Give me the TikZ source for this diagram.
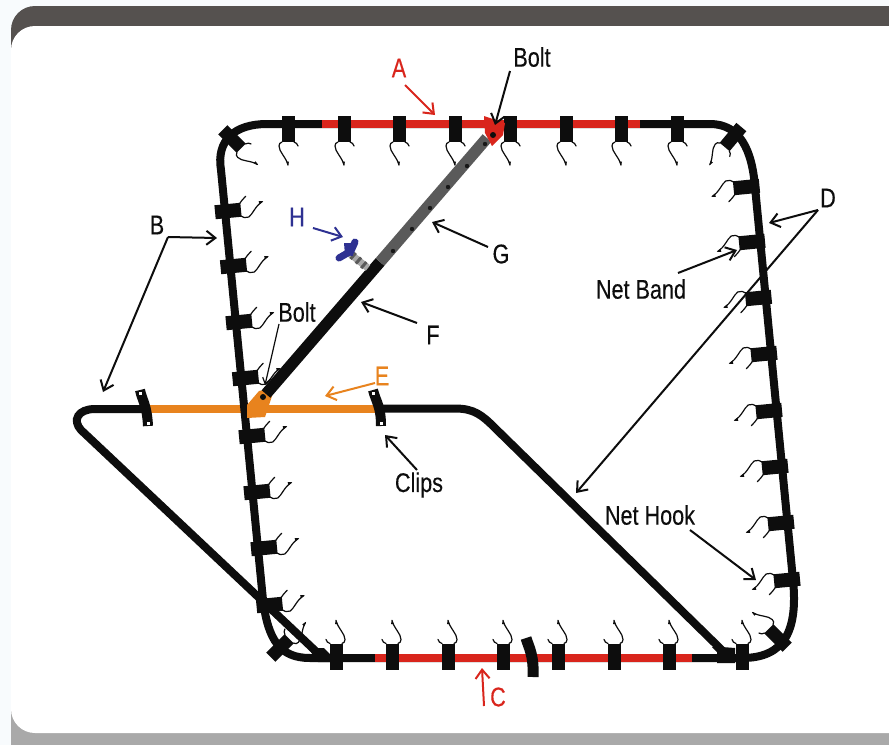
\documentclass[tikz,border=0pt]{standalone}
\usepackage{fontspec}
\setmainfont[FakeStretch=0.8,FakeBold=0.25]{Liberation Sans}
\usetikzlibrary{arrows.meta}
\definecolor{railred}{HTML}{D9251C}
\definecolor{railorange}{HTML}{E8831E}
\definecolor{navy}{HTML}{2E3192}
\definecolor{darkband}{HTML}{55514F}
\definecolor{lightband}{HTML}{A9A9A9}
\definecolor{armgray}{HTML}{5A5A5A}
\definecolor{inkblack}{HTML}{0D0D0D}
\definecolor{paleback}{HTML}{F8FBFD}
\tikzset{
  rail/.style={line width=8pt,draw=inkblack},
  armstroke/.style={line width=11.5pt,line cap=butt},
  hookline/.style={line width=1.2pt,draw=inkblack,line cap=round},
  lbl/.style={font=\fontsize{27}{27}\selectfont,text=inkblack,inner sep=0pt},
  callout/.style={line width=2pt,draw=inkblack,-{Straight Barb[length=9pt,width=14pt,line width=2pt]}},
}
% top / bottom style band with hook: x y rotation
\newcommand{\bandA}[3]{%
  \begin{scope}[shift={(#1,#2)},rotate=#3]
    \fill[inkblack] (-6.5,-13) rectangle (6.5,13);
    \draw[hookline] (-6,13) .. controls (-8,13.5) and (-9,15) .. (-9,17)
       .. controls (-9,23) and (-2,28) .. (0,36);
    \fill[inkblack] (0,37) -- (-1.8,32.5) -- (1,32.5) -- cycle;
    \draw[hookline] (6,13) .. controls (8,13.5) and (9.5,15) .. (10,17);
  \end{scope}}
% side band with hook
\newcommand{\bandB}[3]{%
  \begin{scope}[shift={(#1,#2)},rotate=#3]
    \fill[inkblack] (-7,-13) rectangle (7,13);
    \draw[hookline] (-6,12) .. controls (-8,14) and (-9,17) .. (-8,20)
       .. controls (-6,24) and (3,28) .. (6,35);
    \fill[inkblack] (6.5,36) -- (3.5,32) -- (7,31.5) -- cycle;
    \draw[hookline] (6,12) .. controls (8,14) and (11,16) .. (13,19);
  \end{scope}}
\begin{document}
\begin{tikzpicture}[x=1pt,y=-1pt]
\useasboundingbox (0,0) rectangle (889,745);
% frame
\fill[paleback] (0,0) rectangle (889,745);
\fill[darkband,rounded corners=24pt] (11,90) -- (11,6) -- (930,6) -- (930,90) -- cycle;
\fill[lightband] (11,690) rectangle (889,745);
\fill[white,rounded corners=24pt] (11,400) -- (11,26) -- (930,26) -- (930,733) -- (11,733) -- cycle;
% second frame
\draw[rail] (150,409) -- (95,409) .. controls (78,409) and (72,420) .. (81,430) -- (323,658);
\draw[rail] (377,408.5) -- (455,408.5) .. controls (474,408.5) and (482,415) .. (495,428) -- (730,658);
\fill[inkblack] (712,647) -- (722,647) -- (735,648) -- (735,663) -- (717,663) -- (717,652) -- cycle;
\fill[inkblack] (308,648) -- (324,648) -- (332,656) -- (332,662) -- (318,662) -- cycle;
\draw[line width=8pt,draw=railorange] (150,408.5) -- (377,408.5);
% main frame
\draw[rail,line join=round] (267,124) -- (710,124) .. controls (740,124) and (752,150) .. (755,187)
  -- (793,580) .. controls (798,630) and (785,658) .. (742,658)
  -- (310,658) .. controls (280,658) and (268,640) .. (263,600)
  -- (221,170) .. controls (216,140) and (235,124) .. (267,124) -- cycle;
\draw[line width=8pt,draw=railred] (322,124) -- (640,124);
\draw[line width=8pt,draw=railred] (375,658) -- (692,658);
% bands on top
\foreach \x in {288,344,399,455,510,566,621,677} {\bandA{\x}{129}{0}}
% bands on bottom
\foreach \x in {336,392,448,503,558,614,669,742} {\bandA{\x}{656.5}{180}}
% left bands
\foreach \x/\y in {228/211,233.5/266,239/322,245.5/378,252/436,257/492,264/548,269.5/605} {\bandB{\x}{\y}{95.5}}
% right bands
\foreach \x/\y in {746.5/187,752/242,758.5/298,764/354,769/411,775/467,781/523,787/580} {\bandB{\x}{\y}{-84.5}}
% corner bands
\bandA{232}{139}{45}
\bandA{733}{137}{-40}
\bandA{280}{648}{135}
\bandA{778}{638}{-135}
% clips
\draw[line width=10pt,draw=inkblack] (140,390) .. controls (142,400) and (147,405) .. (148,426);
\draw[line width=10pt,draw=inkblack] (373,390) .. controls (376,402) and (381,406) .. (381,426);
\fill[white] (138.5,391.5) rectangle (141.5,394.5);
\fill[white] (146.5,422) rectangle (149.5,425);
\fill[white] (372,391.5) rectangle (375,394.5);
\fill[white] (379.5,422) rectangle (382.5,425);
\draw[line width=11pt,draw=inkblack] (526,638) .. controls (529,648) and (534,655) .. (533,677);
% diagonal arm
\fill[railorange] (247,405) -- (259,391) -- (268,389) -- (272,396) -- (265,417) -- (247,418) -- cycle;
\draw[armstroke,draw=inkblack] (266,394) -- (380,262);
\draw[armstroke,draw=armgray] (380,262) -- (487,138);
\fill[railred] (484,116) -- (505,123) -- (503,135) -- (492,146) -- (485,133) -- cycle;
\fill[inkblack] (263,397) circle[radius=3];
\fill[inkblack] (493,135) circle[radius=3];
\foreach \x/\y in {485/144,467/166,448/187,430/208,412/229,393/251} {\fill[inkblack!85!armgray] (\x,\y) circle[radius=2.2];}
% knob H
\draw[line width=7pt,draw=lightband] (349,253) -- (368,268);
\draw[line width=8pt,draw=armgray,dash pattern=on 3pt off 4pt] (352,255) -- (366,267);
\draw[line width=7pt,draw=navy,line cap=round] (355,242) -- (351,251) -- (339,258);
\fill[navy] (344,243) -- (354,243) -- (353,256) -- (345,255) -- cycle;
% labels
\node[lbl,text=railred] (labA) at (399,68) {A};
\node[lbl] (labBoltT) at (532,57) {Bolt};
\node[lbl] (labB) at (157,225) {B};
\node[lbl,text=navy] (labH) at (297,217) {H};
\node[lbl] (labG) at (501,254) {G};
\node[lbl] (labF) at (433,335) {F};
\node[lbl] (labBoltL) at (297,312) {Bolt};
\node[lbl,text=railorange] (labE) at (382,376) {E};
\node[lbl] (labClips) at (419,485) {Clips};
\node[lbl] (labNetBand) at (641,289) {Net Band};
\node[lbl] (labD) at (828,198) {D};
\node[lbl] (labNetHook) at (650,515) {Net Hook};
\node[lbl,text=railred] (labC) at (498,697) {C};
% connector ends
\coordinate (aS) at (405,85); \coordinate (aT) at (435,115);
\coordinate (boS) at (510,71); \coordinate (boT) at (495,125);
\coordinate (bJ) at (168,237); \coordinate (bT1) at (217,238); \coordinate (bT2) at (103,392);
\coordinate (hS) at (313,228); \coordinate (hT) at (343,237);
\coordinate (gS) at (488,247); \coordinate (gT) at (432,222);
\coordinate (fS) at (417,323); \coordinate (fT) at (361,302);
\coordinate (blS) at (279,324); \coordinate (blT) at (265,385);
\coordinate (eS) at (375,383); \coordinate (eT) at (325,396);
\coordinate (cS) at (417,470); \coordinate (cT) at (385,435);
\coordinate (nbS) at (678,273); \coordinate (nbT) at (737,250);
\coordinate (dJ) at (818,210); \coordinate (dT1) at (769,223); \coordinate (dT2) at (576,493);
\coordinate (nhS) at (690,530); \coordinate (nhT) at (756,580);
\coordinate (rS) at (484,706); \coordinate (rT) at (482,668);
% connectors
\draw[callout,draw=railred,-{Straight Barb[length=9pt,width=14pt,line width=2pt,color=railred]}] (aS) -- (aT);
\draw[callout] (boS) -- (boT);
\draw[callout] (bJ) -- (bT1);
\draw[callout] (bJ) -- (bT2);
\draw[callout,draw=navy,-{Straight Barb[length=9pt,width=14pt,line width=2pt,color=navy]}] (hS) -- (hT);
\draw[callout] (gS) -- (gT);
\draw[callout] (fS) -- (fT);
\draw[callout,-{Straight Barb[length=6pt,width=8pt,line width=1.2pt]},line width=1.2pt] (blS) -- (blT);
\draw[callout,draw=railorange,-{Straight Barb[length=9pt,width=14pt,line width=2pt,color=railorange]}] (eS) -- (eT);
\draw[callout] (cS) -- (cT);
\draw[callout] (nbS) -- (nbT);
\draw[callout] (dJ) -- (dT1);
\draw[callout] (dJ) -- (dT2);
\draw[callout] (nhS) -- (nhT);
\draw[callout,draw=railred,-{Straight Barb[length=9pt,width=14pt,line width=2pt,color=railred]}] (rS) -- (rT);
\end{tikzpicture}
\end{document}
